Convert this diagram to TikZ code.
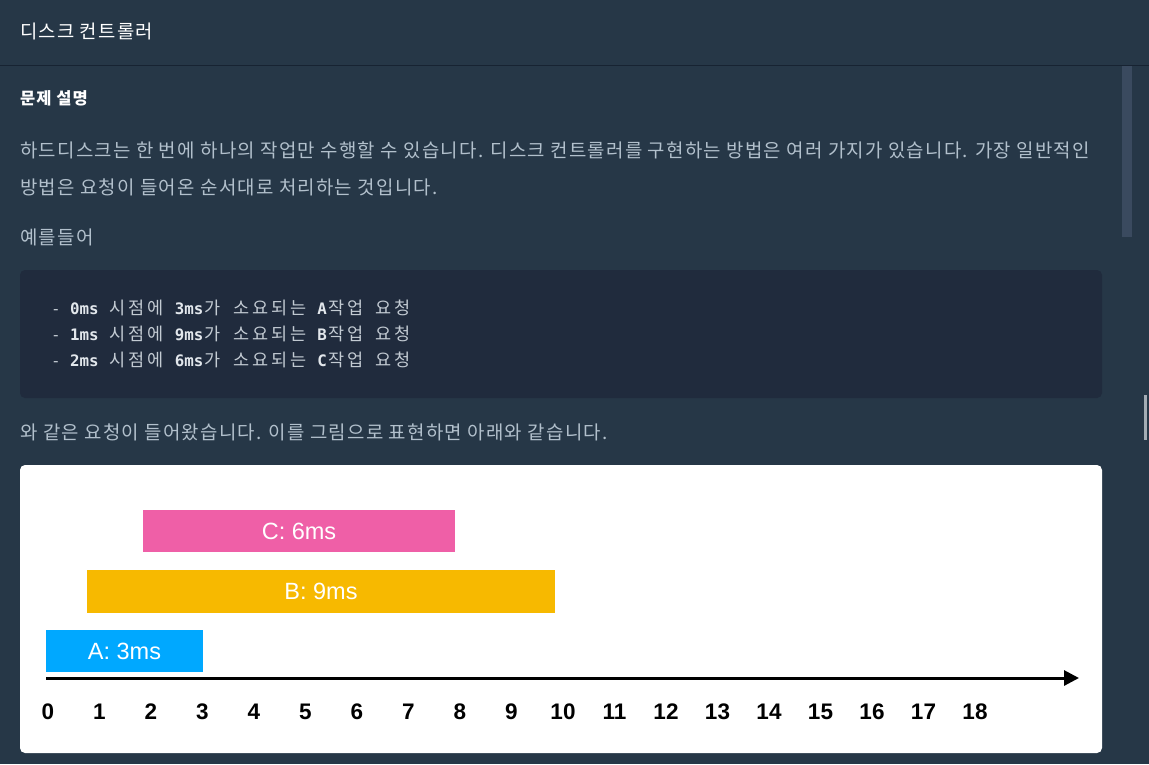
\documentclass[tikz,border=0pt]{standalone}
\usepackage{fontspec}
\setmainfont{Liberation Sans}
\newfontfamily\cjk{Noto Sans CJK KR}
\newfontfamily\cjkp{Noto Sans CJK KR}[LetterSpace=6.5]
\newfontfamily\mono{DejaVu Sans Mono}
\usetikzlibrary{arrows.meta}
\definecolor{pagebg}{HTML}{263747}
\definecolor{rulec}{HTML}{172332}
\definecolor{codebg}{HTML}{202B3D}
\definecolor{bodytxt}{HTML}{B2C0CC}
\definecolor{codetxt}{HTML}{C3CBD3}
\definecolor{codehi}{HTML}{E2E7EC}
\definecolor{thumb}{HTML}{3A4A5F}
\definecolor{marker}{HTML}{A3ACB4}
\definecolor{barA}{HTML}{00A8FF}
\definecolor{barB}{HTML}{F7B900}
\definecolor{barC}{HTML}{EF5FA7}
\newcommand\fs[1]{\fontsize{#1}{#1}\selectfont}
\def\hgl#1{\ifx#1\relax\else\makebox[19pt]{#1}\expandafter\hgl\fi}
\newcommand\hg[1]{{\cjk\fs{17.5}\hgl#1\relax}}
\newcommand\hi[1]{{\bfseries\color{codehi}#1}}
\tikzset{
  para/.style={anchor=west,inner sep=0pt,text=bodytxt,font=\cjkp\fs{18.9}},
  codeline/.style={anchor=west,inner sep=0pt,text=codetxt,font=\mono\fs{15.8}},
  bar/.style={inner sep=0pt,text=white,font=\fs{23.5}},
  tick/.style={inner sep=0pt,font=\bfseries\fs{22.5}},
  axis/.style={line width=3pt,-{Triangle[length=15pt,width=15pt]}},
}
\begin{document}
\begin{tikzpicture}[x=1pt,y=-1pt]
\useasboundingbox (0,0) rectangle (1149,764);
% page
\fill[pagebg] (0,0) rectangle (1149,764);
\fill[rulec] (0,64.5) rectangle (1149,65.7);
\fill[thumb] (1122,66) rectangle (1132,237);
\fill[marker] (1144,395) rectangle (1147,440);
% header
\node[anchor=west,inner sep=0pt,text=white,font=\cjkp\fs{18.8}] (title) at (20,31) {디스크 컨트롤러};
\node[anchor=west,inner sep=0pt,text=white,font=\cjkp\bfseries\fs{16.5}] (sub) at (20,98.5) {문제 설명};
% paragraph
\node[para] (p1) at (20,150) {하드디스크는 한 번에 하나의 작업만 수행할 수 있습니다. 디스크 컨트롤러를 구현하는 방법은 여러 가지가 있습니다. 가장 일반적인};
\node[para] (p2) at (20,187) {방법은 요청이 들어온 순서대로 처리하는 것입니다.};
\node[para] (p3) at (20,237) {예를들어};
% code block
\fill[codebg,rounded corners=5pt] (20,270) rectangle (1102,398);
\node[codeline] (c1) at (51,308) {- \hi{0ms} \hg{시점에} \hi{3ms}\hg{가} \hg{소요되는} \hi{A}\hg{작업} \hg{요청}};
\node[codeline] (c2) at (51,334) {- \hi{1ms} \hg{시점에} \hi{9ms}\hg{가} \hg{소요되는} \hi{B}\hg{작업} \hg{요청}};
\node[codeline] (c3) at (51,360) {- \hi{2ms} \hg{시점에} \hi{6ms}\hg{가} \hg{소요되는} \hi{C}\hg{작업} \hg{요청}};
\node[para] (p4) at (20,432) {와 같은 요청이 들어왔습니다. 이를 그림으로 표현하면 아래와 같습니다.};
% diagram panel
\fill[white,rounded corners=5pt] (20,465) rectangle (1102,753);
\node[bar,fill=barC,minimum width=312pt,minimum height=42pt] (C) at (299,531) {C: 6ms};
\node[bar,fill=barB,minimum width=468pt,minimum height=43pt] (B) at (321,591.5) {B: 9ms};
\node[bar,fill=barA,minimum width=157pt,minimum height=42pt] (A) at (124.5,651) {A: 3ms};
\coordinate (axs) at (46,678);
\coordinate (axe) at (1079,678);
\draw[axis] (axs) -- (axe);
\foreach \i in {0,...,18}{
  \node[tick] (t\i) at ({48+51.5*\i},712) {\i};
}
\end{tikzpicture}
\end{document}
